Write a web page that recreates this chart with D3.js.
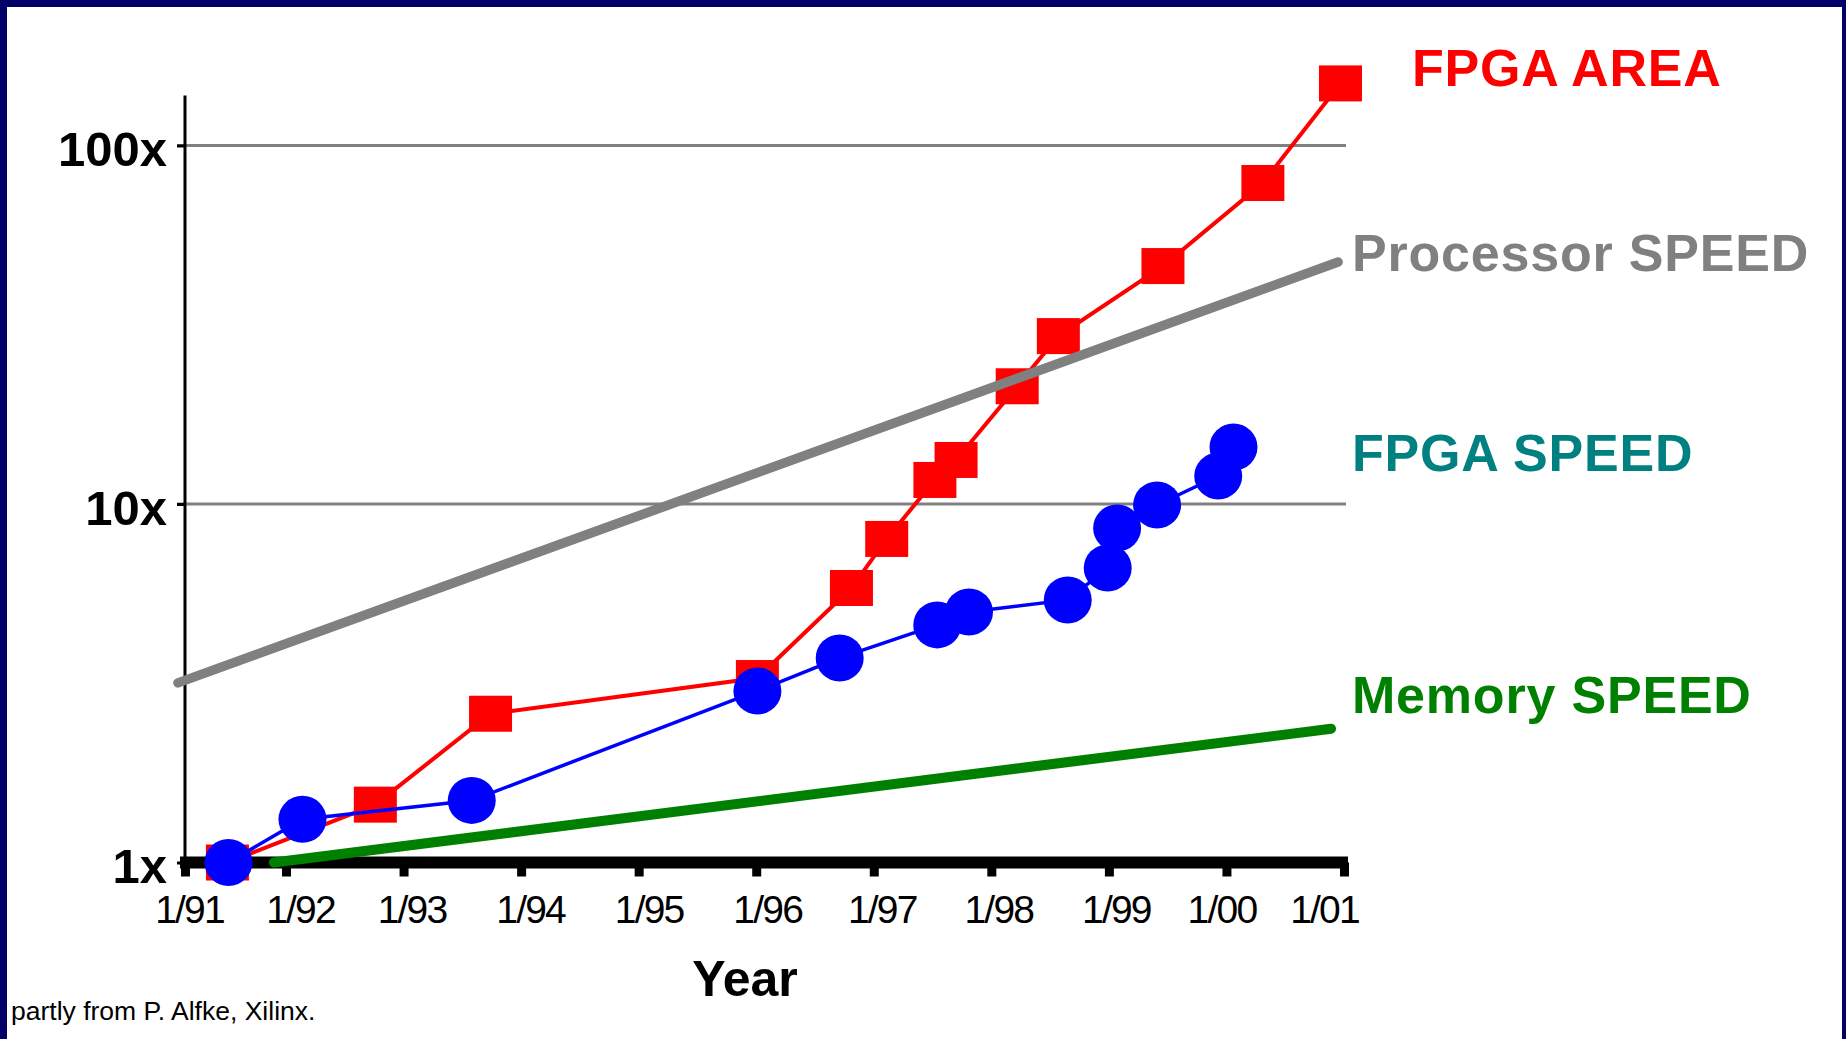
<!DOCTYPE html>
<html>
<head>
<meta charset="utf-8">
<script src="https://cdn.jsdelivr.net/npm/d3@7"></script>
<style>
  html, body { margin: 0; padding: 0; background: #ffffff; }
  svg { display: block; }
</style>
</head>
<body>
<svg id="chart" width="1846" height="1039"></svg>
<script>
// ---------------- data ----------------
const tickYears = [1991, 1992, 1993, 1994, 1995, 1996, 1997, 1998, 1999, 2000, 2001];
const tickLabels = ["1/91", "1/92", "1/93", "1/94", "1/95", "1/96", "1/97", "1/98", "1/99", "1/00", "1/01"];
const yTickValues = [1, 10, 100];
const yTickLabels = ["1x", "10x", "100x"];

const fpgaAreaYears  = [1991.42, 1992.76, 1993.74, 1996.01, 1996.81, 1997.11, 1997.52, 1997.70, 1998.22, 1998.57, 1999.46, 2000.31, 2000.97];
const fpgaAreaValues = [1.0, 1.45, 2.6, 3.27, 5.83, 7.99, 11.67, 13.27, 21.3, 29.4, 46.1, 78.6, 149];

const fpgaSpeedYears  = [1991.43, 1992.14, 1993.58, 1996.01, 1996.71, 1997.54, 1997.81, 1998.65, 1998.99, 1999.07, 1999.41, 1999.93, 2000.06];
const fpgaSpeedValues = [1.0, 1.32, 1.49, 3.01, 3.72, 4.60, 5.00, 5.40, 6.63, 8.57, 9.94, 11.97, 14.42];

const processorYears  = [1990.93, 2000.95];
const processorValues = [3.17, 47.3];

const memoryYears  = [1991.88, 2000.89];
const memoryValues = [1.0, 2.36];

const seriesNames = ["FPGA AREA", "Processor SPEED", "FPGA SPEED", "Memory SPEED"];
const xTitle = "Year";
const footnote = "partly from P. Alfke, Xilinx.";

// ---------------- layout ----------------
const svg = d3.select("#chart");
const W = 1846, H = 1039;
const navy = "#000066";
const FONT = "'Liberation Sans', Arial, Helvetica, sans-serif";
// small horizontal nudges of the x tick labels (pixels), as in the original bitmap
const xLabelNudge = [4, 14, 8, 9, 10, 11, 8, 7, 7, -5, -20];

const x = d3.scaleLinear().domain([1991, 1992, 2001]).range([185, 286, 1344]);
const y = d3.scaleLog().domain([1, 100]).range([862.5, 145.5]);

// frame
svg.append("rect").attr("x", 0).attr("y", 0).attr("width", W).attr("height", H).attr("fill", "#fff");
svg.append("rect").attr("x", 0).attr("y", 0).attr("width", W).attr("height", 7).attr("fill", navy);
svg.append("rect").attr("x", 0).attr("y", 0).attr("width", 7).attr("height", H).attr("fill", navy);
svg.append("rect").attr("x", W - 4).attr("y", 0).attr("width", 4).attr("height", H).attr("fill", navy);

// gridlines
svg.append("g").selectAll("line").data(yTickValues.filter(v => v > 1)).join("line")
  .attr("x1", 177).attr("x2", x(2001) + 2)
  .attr("y1", d => y(d)).attr("y2", d => y(d))
  .attr("stroke", "#808080").attr("stroke-width", 3);

// y axis line
svg.append("line")
  .attr("x1", x(1991)).attr("x2", x(1991))
  .attr("y1", y(1)).attr("y2", y(100) - 50)
  .attr("stroke", "#000").attr("stroke-width", 3);

// y tick marks and labels
const yAxis = d3.axisLeft(y).tickValues(yTickValues)
  .tickFormat((d, i) => yTickLabels[i]).tickSize(8).tickPadding(10);
const gy = svg.append("g").attr("transform", `translate(${x(1991)},0)`).call(yAxis);
gy.select(".domain").remove();
gy.selectAll(".tick line").attr("stroke", "#000").attr("stroke-width", 3);
gy.selectAll(".tick text")
  .attr("x", -18).attr("dy", null).attr("y", 20)
  .attr("font-family", FONT).attr("font-size", 49).attr("font-weight", "bold")
  .attr("fill", "#000").attr("text-anchor", "end");

// x axis
const xAxis = d3.axisBottom(x).tickValues(tickYears)
  .tickFormat((d, i) => tickLabels[i]).tickSize(14).tickSizeOuter(0);
const gx = svg.append("g").attr("transform", `translate(0,${y(1)})`).call(xAxis);
gx.select(".domain").attr("stroke", "#000").attr("stroke-width", 12)
  .attr("d", `M${x(1991) - 5},0H${x(2001) + 4}`);
gx.selectAll(".tick line").attr("stroke", "#000").attr("stroke-width", 9);
gx.selectAll(".tick text")
  .attr("y", 60).attr("dy", null).attr("dx", (d, i) => xLabelNudge[i])
  .attr("font-family", FONT).attr("font-size", 39).attr("fill", "#000")
  .attr("letter-spacing", -1.8);

// series helpers
const pts = (xs, vs) => xs.map((d, i) => [d, vs[i]]);
const line = d3.line().x(d => x(d[0])).y(d => y(d[1]));

// FPGA AREA
const area = pts(fpgaAreaYears, fpgaAreaValues);
svg.append("path").datum(area).attr("d", line)
  .attr("fill", "none").attr("stroke", "#ff0000").attr("stroke-width", 4);
svg.append("g").selectAll("rect").data(area).join("rect")
  .attr("x", d => x(d[0]) - 21.5).attr("y", d => y(d[1]) - 18)
  .attr("width", 43).attr("height", 36).attr("fill", "#ff0000");

// FPGA SPEED
const speed = pts(fpgaSpeedYears, fpgaSpeedValues);
svg.append("path").datum(speed).attr("d", line)
  .attr("fill", "none").attr("stroke", "#0000ff").attr("stroke-width", 3.5);
svg.append("g").selectAll("ellipse").data(speed).join("ellipse")
  .attr("cx", d => x(d[0])).attr("cy", d => y(d[1]))
  .attr("rx", 24).attr("ry", 23.5).attr("fill", "#0000ff");

// Processor SPEED
svg.append("path").datum(pts(processorYears, processorValues)).attr("d", line)
  .attr("fill", "none").attr("stroke", "#808080").attr("stroke-width", 9.5)
  .attr("stroke-linecap", "round");

// Memory SPEED
svg.append("path").datum(pts(memoryYears, memoryValues)).attr("d", line)
  .attr("fill", "none").attr("stroke", "#008000").attr("stroke-width", 10)
  .attr("stroke-linecap", "round");

// series labels
const labelStyle = [
  { x: 1412, y: 86,  fill: "#ff0000" },
  { x: 1352, y: 271, fill: "#808080" },
  { x: 1352, y: 471, fill: "#008080" },
  { x: 1352, y: 713, fill: "#008000" }
];
svg.append("g").selectAll("text").data(seriesNames).join("text")
  .attr("x", (d, i) => labelStyle[i].x).attr("y", (d, i) => labelStyle[i].y)
  .attr("fill", (d, i) => labelStyle[i].fill)
  .attr("font-family", FONT).attr("font-size", 52).attr("font-weight", "bold")
  .attr("letter-spacing", 0.8)
  .text(d => d);

// axis title
svg.append("text").attr("x", 745).attr("y", 996).attr("text-anchor", "middle")
  .attr("font-family", FONT).attr("font-size", 50).attr("font-weight", "bold")
  .attr("fill", "#000").text(xTitle);

// footnote
svg.append("text").attr("x", 11).attr("y", 1020)
  .attr("font-family", FONT).attr("font-size", 26.5).attr("fill", "#000")
  .text(footnote);
</script>
</body>
</html>
